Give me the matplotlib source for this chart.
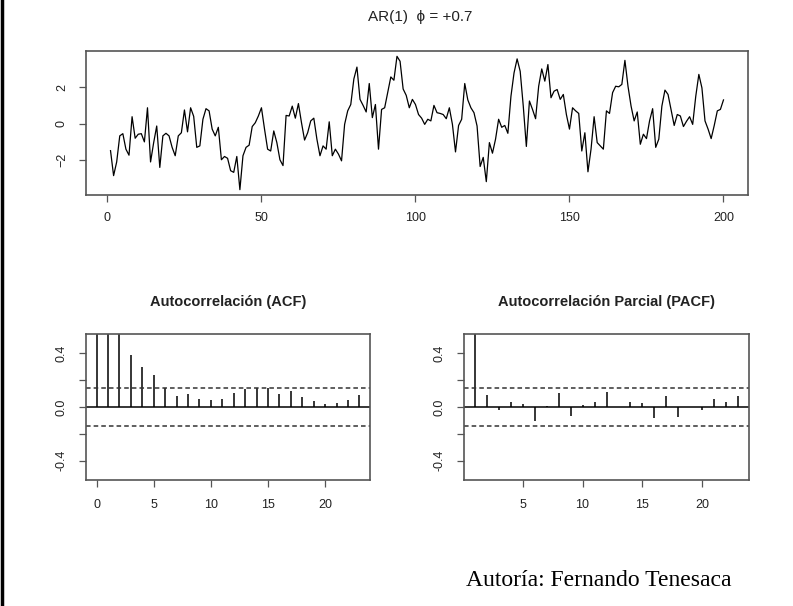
import numpy as np
import matplotlib
matplotlib.use("Agg")
import matplotlib.pyplot as plt

# simulated AR(1) series, phi = +0.7, n = 200
serie = [
    -1.48, -2.85, -2.10, -0.67, -0.55, -1.40, -1.73, 0.38, -0.80, -0.58,
    -0.55, -1.00, 0.87, -2.10, -1.05, -0.13, -2.40, -0.67, -0.53, -0.67,
    -1.30, -1.76, -0.67, -0.50, 0.75, -0.45, 0.87, 0.40, -1.30, -1.22,
    0.24, 0.82, 0.70, -0.30, -0.67, -0.20, -1.98, -1.80, -1.90, -2.58,
    -2.67, -1.80, -3.62, -1.76, -1.30, -1.18, -0.16, 0.05, 0.42, 0.87,
    -0.30, -1.40, -1.50, -0.40, -1.04, -1.98, -2.30, 0.45, 0.42, 0.96,
    0.30, 1.10, 0.05, -0.90, -0.50, 0.15, 0.30, -0.85, -1.76, -1.22,
    -1.40, 0.10, -1.76, -1.40, -1.67, -2.04, -0.04, 0.70, 1.05, 2.45,
    3.10, 1.33, 1.00, 0.64, 2.20, 0.33, 1.05, -1.40, 0.78, 0.87,
    1.70, 2.56, 2.38, 3.69, 3.42, 1.90, 1.55, 0.87, 1.33, 1.05,
    0.50, 0.30, -0.04, 0.24, 0.15, 1.00, 0.60, 0.56, 0.50, 0.27,
    0.87, -0.04, -1.55, -0.10, 0.24, 2.20, 1.30, 0.87, 0.60, -0.13,
    -2.35, -1.85, -3.18, -1.04, -1.62, -0.85, 0.24, -0.20, -0.10, -0.53,
    1.50, 2.78, 3.55, 2.87, 0.96, -1.25, 1.24, 0.78, 0.27, 2.05,
    3.00, 2.33, 3.24, 1.42, 1.78, 1.87, 1.33, 1.60, 0.50, -0.30,
    0.87, 0.70, 0.56, -1.50, -0.50, -2.64, -1.40, 0.38, -1.04, -1.22,
    -1.40, 0.70, 0.56, 1.70, 2.05, 2.02, 2.15, 3.47, 2.05, 0.96,
    0.15, 0.64, -1.13, -0.58, -0.82, 0.15, 0.82, -1.30, -0.85, 0.96,
    1.84, 1.60, 0.75, -0.10, 0.50, 0.42, -0.16, 0.13, 0.38, -0.04,
    1.50, 2.70, 1.96, 0.15, -0.30, -0.82, -0.10, 0.70, 0.78, 1.30,
]

acf_lags = list(range(0, 24))
acf_vals = [1.00, 0.70, 0.58, 0.39, 0.30, 0.24, 0.14, 0.085, 0.10, 0.063,
            0.055, 0.06, 0.105, 0.135, 0.14, 0.142, 0.10, 0.12, 0.072, 0.048,
            0.022, 0.03, 0.05, 0.092]

pacf_lags = list(range(1, 24))
pacf_vals = [0.70, 0.093, -0.02, 0.035, 0.025, -0.108, 0.01, 0.105, -0.07, 0.018,
             0.035, 0.113, 0.003, 0.035, 0.03, -0.083, 0.08, -0.078, -0.003, -0.025,
             0.063, 0.035, 0.085]

n = len(serie)
ic = 1.96 / np.sqrt(n)

W, H = 793, 606
fig = plt.figure(figsize=(W / 100, H / 100), dpi=100)
fig.patch.set_facecolor("white")

plt.rcParams['font.family'] = ['Liberation Sans', 'DejaVu Sans']
box_col = "#555555"
txt_col = "#222222"


def rect(l, r, t, b):
    return [l / W, 1 - b / H, (r - l) / W, (b - t) / H]


def estilo(ax):
    for s in ax.spines.values():
        s.set_color(box_col)
        s.set_linewidth(1.2)
    ax.tick_params(direction="out", length=5, width=0.9, color=box_col,
                   labelsize=9, labelcolor=txt_col)
    ax.tick_params(axis="x", pad=7)
    ax.tick_params(axis="y", pad=8)
    for lab in ax.get_yticklabels():
        lab.set_rotation(90)
        lab.set_va("center")


# serie de tiempo
ax1 = fig.add_axes(rect(86, 748, 51, 195))
t = np.arange(1, n + 1)
ax1.plot(t, serie, color="black", lw=0.9)
r = max(serie) - min(serie)
ax1.set_xlim(1 - 0.04 * 199, 200 + 0.04 * 199)
ax1.set_ylim(min(serie) - 0.04 * r, max(serie) + 0.04 * r)
ax1.set_xticks([0, 50, 100, 150, 200])
ax1.set_yticks([-2, 0, 2])
estilo(ax1)
fig.text(420 / W, 1 - 17 / H, "AR(1)  \u03d5 = +0.7", ha="center", va="center",
         fontsize=11, color=txt_col)


def correlograma(ax, lags, vals, xlim):
    ax.vlines(lags, 0, vals, color="black", lw=1.1)
    ax.axhline(0, color="black", lw=1.1)
    for s in (ic, -ic):
        ax.axhline(s, color="#333333", lw=1.1, ls=(0, (3, 2)))
    ax.set_xlim(*xlim)
    ax.set_ylim(-0.545, 0.545)
    ax.set_yticks([-0.4, -0.2, 0.0, 0.2, 0.4])
    ax.set_yticklabels(["-0.4", "", "0.0", "", "0.4"])
    estilo(ax)


ax2 = fig.add_axes(rect(86, 370, 334, 480))
correlograma(ax2, acf_lags, acf_vals, (-0.92, 23.92))
ax2.set_xticks([0, 5, 10, 15, 20])
ax2.tick_params(axis="x", pad=9)
fig.text(228 / W, 1 - 302 / H, "Autocorrelación (ACF)", ha="center", va="center",
         fontsize=10.5, fontweight="bold", color=txt_col)

ax3 = fig.add_axes(rect(464, 749, 334, 480))
correlograma(ax3, pacf_lags, pacf_vals, (0.12, 23.88))
ax3.set_xticks([5, 10, 15, 20])
ax3.tick_params(axis="x", pad=9)
fig.text(606 / W, 1 - 302 / H, "Autocorrelación Parcial (PACF)", ha="center",
         va="center", fontsize=10.5, fontweight="bold", color=txt_col)

fig.text(466 / W, 1 - 580 / H, "Autoría: Fernando Tenesaca", ha="left",
         va="center", fontsize=17, family="Liberation Serif", color="black")

# borde izquierdo
fig.add_artist(plt.Line2D([1.5 / W, 1.5 / W], [0, 1], color="black", lw=2.5,
                          transform=fig.transFigure))

fig.savefig("out.png", dpi=100)
